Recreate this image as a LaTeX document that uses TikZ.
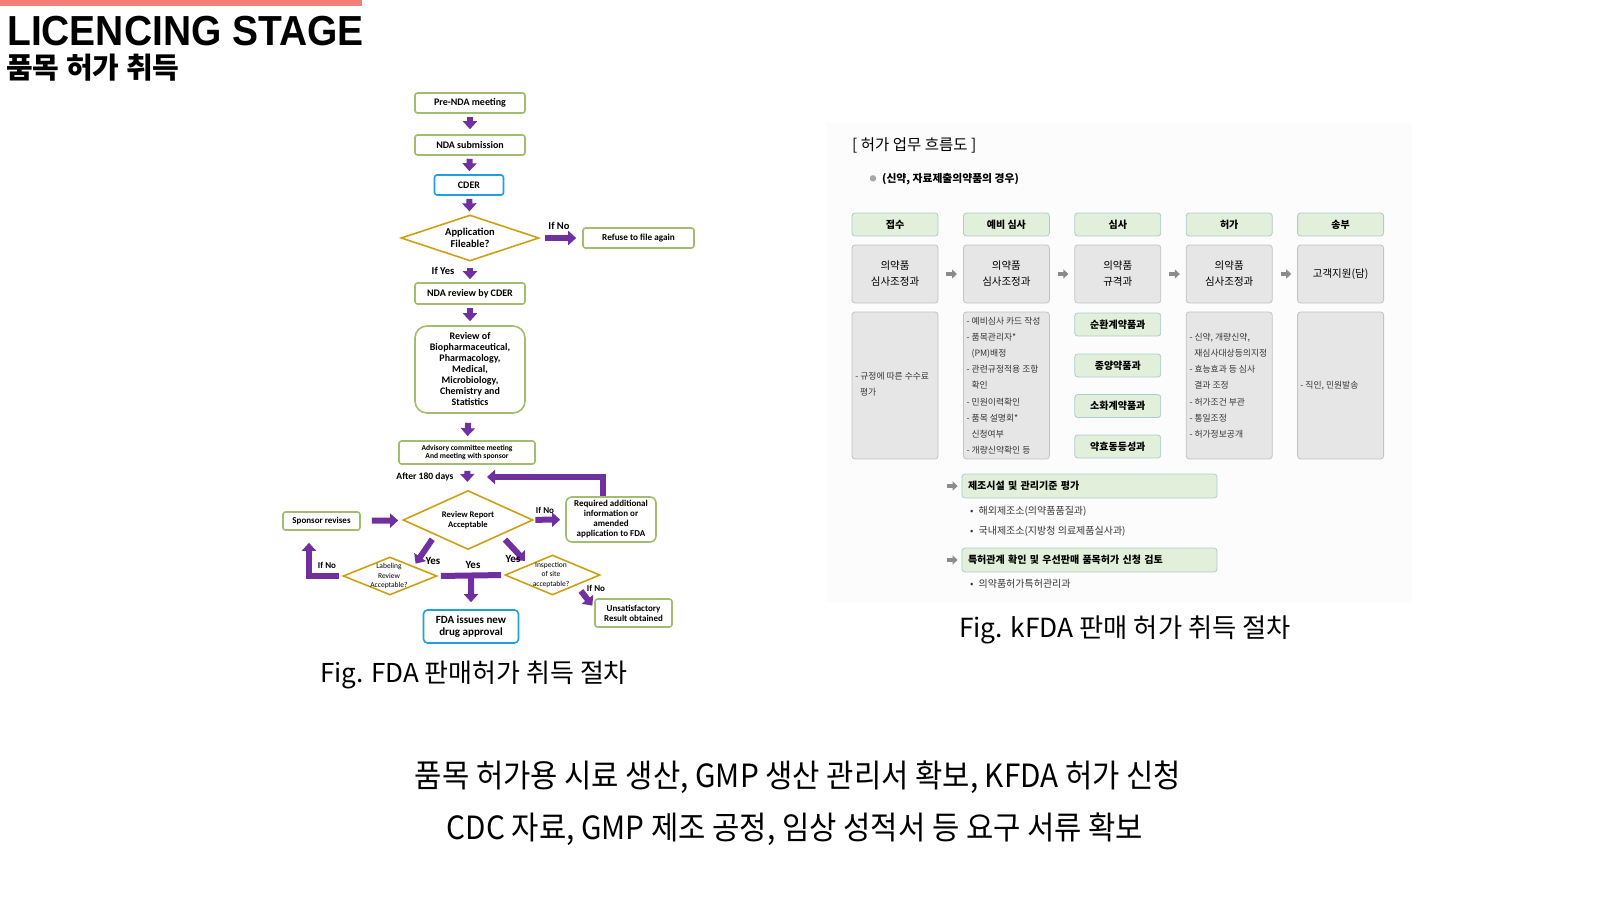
\documentclass[tikz,border=0pt]{standalone}
\usepackage{fontspec}
\usepackage{graphicx}
\setmainfont{Carlito}
\newfontfamily\kr{Noto Sans CJK KR}
\newfontfamily\hv{Liberation Sans}
\usetikzlibrary{arrows.meta,shapes.geometric,calc}
\definecolor{purp}{RGB}{112,48,160}
\definecolor{fgreen}{RGB}{160,190,110}
\definecolor{fblue}{RGB}{30,160,220}
\definecolor{fgold}{RGB}{205,160,20}
\definecolor{pinkbar}{RGB}{245,125,120}
\definecolor{hfill}{RGB}{226,239,218}
\definecolor{hborder}{RGB}{170,205,205}
\definecolor{gfill}{RGB}{230,230,230}
\definecolor{gborder}{RGB}{195,195,195}
\definecolor{garr}{RGB}{140,140,140}
\definecolor{ktext}{RGB}{55,55,55}
\definecolor{kbg}{RGB}{252,252,252}
\tikzset{
  gbox/.style={draw=fgreen, line width=1.6pt, rounded corners=2.5pt, fill=white, inner sep=0pt, align=center, font=\bfseries\fontsize{10}{11}\selectfont},
  bbox/.style={gbox, draw=fblue},
  dia/.style={diamond, draw=fgold, line width=1.6pt, inner sep=0pt, fill=white},
  dlbl/.style={inner sep=0pt, align=center},
  lab/.style={inner sep=0pt, font=\bfseries\fontsize{9}{10}\selectfont},
  ylab/.style={inner sep=0pt, font=\bfseries\fontsize{11}{12}\selectfont},
  parrow/.style={draw=purp, line width=6pt, -{Triangle[width=14pt,length=8pt]}},
  pbar/.style={draw=purp, line width=6pt},
  khead/.style={draw=hborder, fill=hfill, line width=0.8pt, rounded corners=3pt, minimum width=86pt, minimum height=23pt, inner sep=0pt, font=\kr\bfseries\fontsize{10}{12}\selectfont},
  kgrey/.style={draw=gborder, fill=gfill, line width=0.8pt, rounded corners=3pt, minimum width=86pt, inner sep=0pt, align=center, font=\kr\fontsize{10.5}{16}\selectfont},
  klist/.style={inner sep=0pt, align=left, text=ktext, font=\kr\fontsize{8.8}{16.2}\selectfont},
  kbar/.style={khead, text width=243pt, align=left, inner xsep=6pt, minimum height=24pt},
  kitem/.style={inner sep=0pt, text=ktext, font=\kr\fontsize{10}{10}\selectfont},
  garrow/.style={draw=garr, line width=4pt, -{Triangle[width=9pt,length=5pt]}},
}
\begin{document}
\begin{tikzpicture}[x=1pt,y=-1pt]
\useasboundingbox (0,0) rectangle (1600,900);
% header
\fill[pinkbar] (0,0) rectangle (362,6);
\node[anchor=base west, inner sep=0pt, font=\hv\bfseries\fontsize{42}{42}\selectfont] (title) at (7,45) {\scalebox{0.928}[1]{LICENCING STAGE}};
\node[anchor=base west, inner sep=0pt, font=\kr\bfseries\fontsize{29}{29}\selectfont] (subtitle) at (6,78) {품목 허가 취득};

% ---------- FDA flowchart ----------
\node[gbox, minimum width=110pt, minimum height=20pt] (pre) at (470,103) {Pre-NDA meeting};
\node[gbox, minimum width=110pt, minimum height=20pt] (nda) at (470,145) {NDA submission};
\node[bbox, minimum width=69pt, minimum height=20pt] (cder) at (469,185) {CDER};
\node[dia, minimum width=138pt, minimum height=46pt] (app) at (470,238) {};
\node[dlbl, font=\bfseries\fontsize{10.5}{12.5}\selectfont] (apptxt) at (470,238) {Application\\Fileable?};
\node[gbox, minimum width=111pt, minimum height=20pt, font=\bfseries\fontsize{9.2}{10}\selectfont] (refuse) at (638.5,238) {Refuse to file again};
\node[gbox, minimum width=110pt, minimum height=21pt] (ndarev) at (470,293.5) {NDA review by CDER};
\node[gbox, rounded corners=12pt, minimum width=110pt, minimum height=87pt, font=\bfseries\fontsize{10}{11}\selectfont] (disc) at (470,369.5) {Review of\\Biopharmaceutical,\\Pharmacology,\\Medical,\\Microbiology,\\Chemistry and\\Statistics};
\node[gbox, minimum width=136pt, minimum height=23pt, font=\bfseries\fontsize{7.6}{8.5}\selectfont] (adv) at (467,452.5) {Advisory committee meeting\\And meeting with sponsor};
\node[dia, minimum width=130pt, minimum height=59pt] (rr) at (468,520) {};
\node[dlbl, font=\bfseries\fontsize{8.6}{10}\selectfont] (rrtxt) at (468,520) {Review Report\\Acceptable};
\node[gbox, minimum width=77pt, minimum height=18pt, font=\bfseries\fontsize{9}{10}\selectfont] (spon) at (321.5,521) {Sponsor revises};
\node[gbox, rounded corners=6pt, minimum width=90pt, minimum height=45pt, font=\bfseries\fontsize{9}{10}\selectfont] (req) at (611,519.5) {Required additional\\information or\\amended\\application to FDA};
\node[dia, minimum width=94pt, minimum height=38pt] (lab) at (390,576) {};
\node[dlbl, font=\fontsize{7.5}{9.3}\selectfont] (labtxt) at (389,576) {Labeling\\Review\\Acceptable?};
\node[dia, minimum width=95pt, minimum height=40pt] (insp) at (552.5,575) {};
\node[dlbl, font=\fontsize{7.5}{9.3}\selectfont] (insptxt) at (551,575) {Inspection\\of site\\acceptable?};
\node[gbox, minimum width=77pt, minimum height=28pt, font=\bfseries\fontsize{9}{10}\selectfont] (unsat) at (633.5,613) {Unsatisfactory\\Result obtained};
\node[bbox, rounded corners=4pt, minimum width=95pt, minimum height=33pt, font=\bfseries\fontsize{11}{12}\selectfont] (fda) at (471,626.5) {FDA issues new\\drug approval};

% arrows
\draw[parrow, shorten <=3pt, shorten >=5pt] (pre) -- (nda);
\draw[parrow, shorten <=3pt, shorten >=3pt] (nda) -- (cder);
\draw[parrow, shorten <=3pt, shorten >=3pt] (cder) -- (app);
\draw[parrow, shorten <=6pt, shorten >=3pt] (app) -- (ndarev);
\draw[parrow, shorten <=3pt, shorten >=4pt] (ndarev) -- (disc);
\draw[parrow, shorten <=9pt, shorten >=4pt] (disc) -- (adv);
\draw[parrow, shorten <=6pt, shorten >=8pt] (adv) -- (rr);
\draw[parrow, shorten <=5pt, shorten >=6pt] (app) -- (refuse);
\draw[parrow, shorten <=11pt, shorten >=5pt] (spon) -- (rr);
\draw[parrow, shorten <=2pt, shorten >=5pt] (rr) -- (req);
\coordinate (fbend) at (487,477);
\draw[parrow] ([xshift=-8pt]req.north) |- (fbend);
\draw[parrow, shorten <=5pt, shorten >=3pt] ($(rr.south)!0.5!(rr.west)$) -- ($(lab.north)!0.5!(lab.east)$);
\draw[parrow, shorten <=6pt, shorten >=5pt] ($(rr.south)!0.5!(rr.east)$) -- ($(insp.north)!0.5!(insp.west)$);
\draw[pbar, shorten <=3pt, shorten >=3pt] (lab.east) -- (insp.west);
\coordinate (mid) at ($(lab.east)!0.5!(insp.west)$);
\draw[parrow, shorten >=7pt] (mid) -- (fda.north);
\draw[parrow, shorten <=3pt, shorten >=12pt] (lab.west) -| ([xshift=-12.5pt]spon.south);
\draw[parrow, shorten <=7pt, shorten >=3pt] ($(insp.south)!0.5!(insp.east)$) -- ([yshift=5pt]unsat.west);

% labels
\node[lab, font=\bfseries\fontsize{10.5}{11}\selectfont] (ifno1) at (559,226) {If No};
\node[lab, font=\bfseries\fontsize{10.5}{11}\selectfont] (ifyes) at (443,271) {If Yes};
\node[lab, font=\bfseries\fontsize{9.6}{10}\selectfont] (after) at (425,477) {After 180 days};
\node[lab] (ifno2) at (545,510) {If No};
\node[lab] (ifno3) at (327,565) {If No};
\node[lab] (ifno4) at (596,588) {If No};
\node[ylab] (yes1) at (433,561) {Yes};
\node[ylab] (yes2) at (473,565) {Yes};
\node[ylab] (yes3) at (513,559) {Yes};

\node[anchor=base, inner sep=0pt, font=\kr\fontsize{26}{26}\selectfont] (cap1) at (474,682) {Fig. FDA 판매허가 취득 절차};

% ---------- kFDA ----------
\fill[kbg] (826,122) rectangle (1412,602);
\node[anchor=west, inner sep=0pt, font=\kr\fontsize{15.5}{15.5}\selectfont] (ktitle) at (852,145) {[ 허가 업무 흐름도 ]};
\node[inner sep=0pt, text=gray!70, font=\kr\fontsize{7}{7}\selectfont] (kbul) at (873,179) {●};
\node[anchor=west, inner sep=0pt, font=\kr\bfseries\fontsize{10.8}{12}\selectfont] (ksub) at (882,179) {(신약, 자료제출의약품의 경우)};

\node[khead] (h1) at (895,224.5) {접수};
\node[khead] (h2) at (1006.4,224.5) {예비 심사};
\node[khead] (h3) at (1117.8,224.5) {심사};
\node[khead] (h4) at (1229.2,224.5) {허가};
\node[khead] (h5) at (1340.6,224.5) {송부};

\node[kgrey, minimum height=58pt] (d1) at (895,274) {의약품\\심사조정과};
\node[kgrey, minimum height=58pt] (d2) at (1006.4,274) {의약품\\심사조정과};
\node[kgrey, minimum height=58pt] (d3) at (1117.8,274) {의약품\\규격과};
\node[kgrey, minimum height=58pt] (d4) at (1229.2,274) {의약품\\심사조정과};
\node[kgrey, minimum height=58pt] (d5) at (1340.6,274) {고객지원(담)};
\draw[garrow, shorten <=8pt, shorten >=6pt] (d1) -- (d2);
\draw[garrow, shorten <=8pt, shorten >=6pt] (d2) -- (d3);
\draw[garrow, shorten <=8pt, shorten >=6pt] (d3) -- (d4);
\draw[garrow, shorten <=8pt, shorten >=6pt] (d4) -- (d5);

\node[kgrey, minimum height=147pt] (l1) at (895,385.5) {};
\node[kgrey, minimum height=147pt] (l2) at (1006.4,385.5) {};
\node[kgrey, minimum height=147pt] (l4) at (1229.2,385.5) {};
\node[kgrey, minimum height=147pt] (l5) at (1340.6,385.5) {};
\node[khead] (s1) at (1117.8,324.5) {순환계약품과};
\node[khead] (s2) at (1117.8,365.5) {종양약품과};
\node[khead] (s3) at (1117.8,406) {소화계약품과};
\node[khead] (s4) at (1117.8,446.5) {약효동등성과};

\node[klist, anchor=west] (t1) at ([xshift=3.5pt,yshift=1pt]l1.west) {- 규정에 따른 수수료\\\hspace*{0.55em}평가};
\node[klist, anchor=west] (t2) at ([xshift=3.5pt]l2.west) {- 예비심사 카드 작성\\- 품목관리자*\\\hspace*{0.55em}(PM)배정\\- 관련규정적용 조항\\\hspace*{0.55em}확인\\- 민원이력확인\\- 품목 설명회*\\\hspace*{0.55em}신청여부\\- 개량신약확인 등};
\node[klist, anchor=west] (t4) at ([xshift=3.5pt]l4.west) {- 신약, 개량신약,\\\hspace*{0.55em}재심사대상등의지정\\- 효능효과 등 심사\\\hspace*{0.55em}결과 조정\\- 허가조건 부관\\- 통일조정\\- 허가정보공개};
\node[klist, anchor=west] (t5) at ([xshift=3pt]l5.west) {- 직인, 민원발송};

\node[kbar] (m1) at (1089.5,486) {제조시설 및 관리기준 평가};
\draw[garrow] ([xshift=-15pt]m1.west) -- ([xshift=-4pt]m1.west);
\node[kitem, anchor=west] (b1) at (970,511) {•\hspace{5pt}해외제조소(의약품품질과)};
\node[kitem, anchor=west] (b2) at (970,531) {•\hspace{5pt}국내제조소(지방청 의료제품실사과)};
\node[kbar] (m2) at (1089.5,560) {특허관계 확인 및 우선판매 품목허가 신청 검토};
\draw[garrow] ([xshift=-15pt]m2.west) -- ([xshift=-4pt]m2.west);
\node[kitem, anchor=west] (b3) at (970,584) {•\hspace{5pt}의약품허가특허관리과};

\node[anchor=base, inner sep=0pt, font=\kr\fontsize{26.3}{26.3}\selectfont] (cap2) at (1125,637) {Fig. kFDA 판매 허가 취득 절차};

% ---------- bottom text ----------
\node[anchor=base, inner sep=0pt, font=\kr\fontsize{32}{32}\selectfont] (bt1) at (798,787) {\scalebox{0.928}[1]{품목 허가용 시료 생산, GMP 생산 관리서 확보, KFDA 허가 신청}};
\node[anchor=base, inner sep=0pt, font=\kr\fontsize{32}{32}\selectfont] (bt2) at (795,839) {\scalebox{0.928}[1]{CDC 자료, GMP 제조 공정, 임상 성적서 등 요구 서류 확보}};
\end{tikzpicture}
\end{document}
